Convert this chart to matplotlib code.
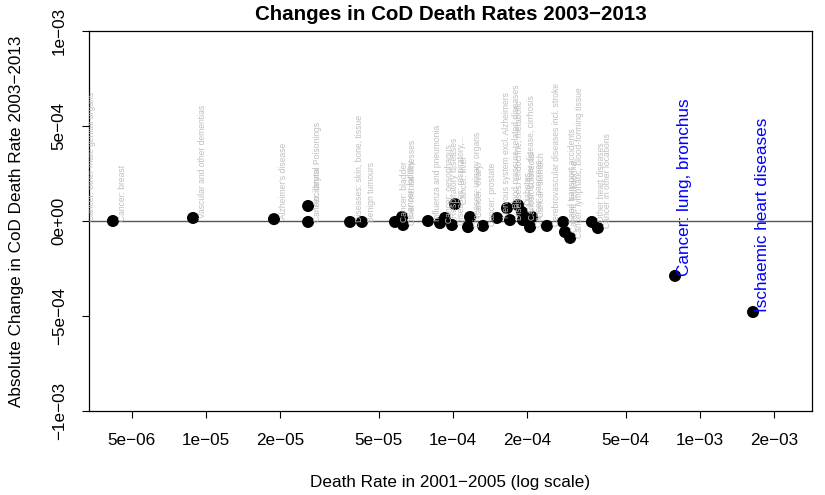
import matplotlib
matplotlib.use("Agg")
import matplotlib.pyplot as plt

plt.rcParams["font.family"] = ["Liberation Sans", "DejaVu Sans"]

# Causes of death: baseline death rate (2001-2005) and absolute change 2003-2013
causes = [
    "Cancer: other male genital organs", "Cancer: breast",
    "Vascular and other dementias", "Alzheimer's disease",
    "Accidental Poisonings", "Cancer: larynx",
    "Diseases: skin, bone, tissue", "Benign tumours",
    "Cancer: bladder", "Cancer: kidney", "Other mental illnesses",
    "Influenza and pneumonia", "Cancer: oesophagus", "Respiratory diseases",
    "Diseases: respiratory,...", "Cancer: liver", "Diseases: urinary organs",
    "Cancer: ovary", "Cancer: prostate", "Nervous system excl. Alzheimers",
    "Blood pressure-related diseases", "Diseases: endocrine, metabolic",
    "Diabetes", "Chronic liver disease, cirrhosis", "Cancer: colorectal",
    "Cancer: pancreas", "Cancer: stomach",
    "Cerebrovascular diseases incl. stroke", "Land transport accidents",
    "Cancer: leukaemia", "Cancer: lymphatic, blood-forming tissue",
    "Other heart diseases", "Cancer in other locations",
    "Cancer: lung, bronchus", "Ischaemic heart diseases",
]
rate_2001_2005 = [
    3.15e-6, 4.20e-6, 8.86e-6, 1.885e-5, 2.59e-5, 2.59e-5,
    3.83e-5, 4.28e-5, 5.82e-5, 6.22e-5, 6.28e-5,
    7.92e-5, 8.86e-5, 9.28e-5, 9.91e-5, 1.019e-4, 1.150e-4,
    1.172e-4, 1.323e-4, 1.507e-4, 1.654e-4, 1.701e-4,
    1.832e-4, 1.901e-4, 1.919e-4, 2.05e-4, 2.09e-4,
    2.40e-4, 2.79e-4, 2.84e-4, 2.98e-4, 3.65e-4, 3.86e-4,
    7.92e-4, 1.639e-3,
]
change_2003_2013 = [
    0.0, 0.0, 1.6e-5, 1.0e-5, 7.9e-5, -5e-6,
    -5e-6, -5e-6, -5e-6, 2.1e-5, -2.1e-5,
    0.0, -1.1e-5, 1.6e-5, -2.1e-5, 8.9e-5, -3.2e-5,
    2.1e-5, -2.6e-5, 1.6e-5, 6.8e-5, 5e-6,
    8.4e-5, 4.7e-5, 5e-6, -3.2e-5, 2.1e-5,
    -2.6e-5, -5e-6, -5.8e-5, -8.9e-5, -5e-6, -3.7e-5,
    -2.89e-4, -4.79e-4,
]
highlight = ["Cancer: lung, bronchus", "Ischaemic heart diseases"]

x_ticks = [5e-6, 1e-5, 2e-5, 5e-5, 1e-4, 2e-4, 5e-4, 1e-3, 2e-3]
x_ticklabels = ["5e\u221206", "1e\u221205", "2e\u221205", "5e\u221205", "1e\u221204",
                "2e\u221204", "5e\u221204", "1e\u221203", "2e\u221203"]
y_ticks = [-1e-3, -5e-4, 0.0, 5e-4, 1e-3]
y_ticklabels = ["\u22121e\u221203", "\u22125e\u221204", "0e+00", "5e\u221204", "1e\u221203"]

W, H = 825, 495
fig = plt.figure(figsize=(W / 100, H / 100), dpi=100)
ax = fig.add_axes([89 / W, 84 / H, (812 - 89) / W, 380 / H])

ax.set_xscale("log")
ax.set_xlim(3.36e-6, 2.84e-3)
ax.set_ylim(-1e-3, 1e-3)

ax.axhline(0, color="#555555", lw=1.0, zorder=1)
ax.scatter(rate_2001_2005, change_2003_2013, s=75, color="black",
           edgecolors="none", zorder=2)

for name, xv, yv in zip(causes, rate_2001_2005, change_2003_2013):
    hot = name in highlight
    ax.annotate(name, (xv, yv), xytext=(7.0, 0), textcoords="offset points",
                rotation=90, ha="center", va="bottom",
                fontsize=12.3 if hot else 6.15,
                color="blue" if hot else "#bebebe",
                annotation_clip=False, clip_on=True, zorder=3)

ax.set_xticks(x_ticks)
ax.set_xticklabels(x_ticklabels)
ax.minorticks_off()
ax.set_yticks(y_ticks)
ax.set_yticklabels(y_ticklabels, rotation=90, va="center")
ax.tick_params(axis="both", length=5, width=0.8, labelsize=12.3, pad=11)
for sp in ax.spines.values():
    sp.set_linewidth(0.9)

fig.text((89 + 812) / 2 / W, 1 - 14 / H, "Changes in CoD Death Rates 2003\u22122013",
         ha="center", va="center", fontsize=14.8, fontweight="bold")
fig.text((89 + 812) / 2 / W, 1 - 483 / H, "Death Rate in 2001\u22122005 (log scale)",
         ha="center", va="center", fontsize=12.3)
fig.text(17 / W, 0.5 * (1 - 31 / H + 1 - 411 / H),
         "Absolute Change in CoD Death Rate 2003\u22122013",
         ha="center", va="center", rotation=90, fontsize=12.3)

fig.savefig("out.png", dpi=100)
